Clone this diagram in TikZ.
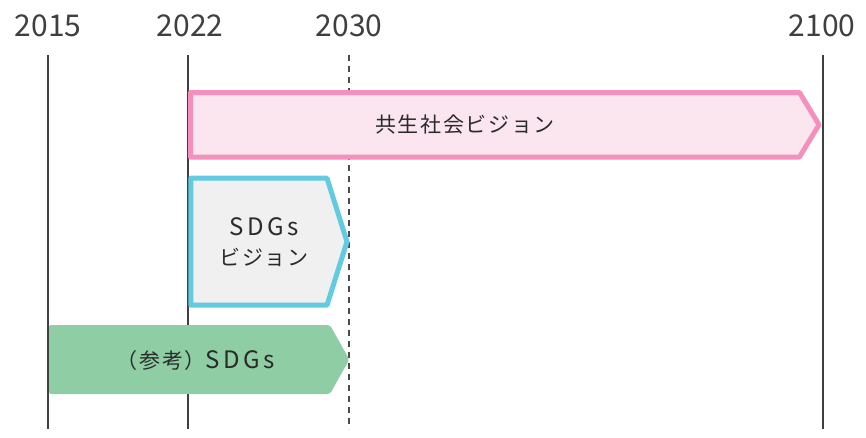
\documentclass[tikz,border=0pt]{standalone}
\usepackage{fontspec}
\setmainfont{Noto Sans CJK JP}
\usepackage{tikz}
\usetikzlibrary{positioning}

\definecolor{axisgray}{HTML}{3F3F3F}
\definecolor{dashgray}{HTML}{4A4A4A}
\definecolor{labelgray}{HTML}{2B2B2B}
\definecolor{pinkline}{HTML}{F490BB}
\definecolor{pinkfill}{HTML}{FBE6EF}
\definecolor{blueline}{HTML}{62CBE2}
\definecolor{bluefill}{HTML}{F0F0F0}
\definecolor{greenfill}{HTML}{8FCDA4}

\newcommand{\latin}[1]{{\fontsize{24}{30}\selectfont\addfontfeature{LetterSpace=15}#1}}

\begin{document}
\begin{tikzpicture}[x=1pt,y=-1pt]
	\tikzstyle{Year}	= [font=\fontsize{30}{32}\selectfont, text=axisgray, inner sep=0pt]
	\tikzstyle{Axis}	= [line width=2pt, axisgray]
	\tikzstyle{Target}	= [line width=2pt, dashgray, dash pattern=on 6pt off 5pt]
	\tikzstyle{Label}	= [font=\fontsize{21}{30}\selectfont\addfontfeature{LetterSpace=8}, text=labelgray, align=center, inner sep=0pt]
	\tikzstyle{Pink}	= [line width=5pt, draw=pinkline, fill=pinkfill, line join=round]
	\tikzstyle{Blue}	= [line width=5pt, draw=blueline, fill=bluefill, line join=round]
	\tikzstyle{Green}	= [fill=greenfill, rounded corners=2pt]

	\useasboundingbox (0,0) rectangle (866,437);

	% years
	\node (y2015) at (48,26) [Year] {2015};
	\node (y2022) at (190,26) [Year] {2022};
	\node (y2030) at (349,26) [Year] {2030};
	\node (y2100) at (822,26) [Year] {2100};

	\coordinate (t2015) at (48,55);
	\coordinate (t2022) at (188,55);
	\coordinate (t2030) at (349,55);
	\coordinate (t2100) at (822.5,55);
	\coordinate (b2015) at (48,429);
	\coordinate (b2022) at (188,429);
	\coordinate (b2030) at (349,429);
	\coordinate (b2100) at (822.5,429);

	\draw (t2015) -- (b2015) [Axis];
	\draw (t2022) -- (b2022) [Axis];
	\draw (t2030) -- (b2030) [Target];
	\draw (t2100) -- (b2100) [Axis];

	% bars
	\draw [Pink] (190.5,92.5) -- (799.5,92.5) -- (819,124.75) -- (799.5,157) -- (190.5,157) -- cycle;
	\draw [Blue] (190.8,178.2) -- (327,178.2) -- (347,241.7) -- (327,305.2) -- (190.8,305.2) -- cycle;
	\fill [Green] (49,325) -- (330,325) -- (349.3,359.5) -- (330,394) -- (49,394) -- cycle;

	\node (vision) at (465,125) [Label] {共生社会ビジョン};
	\node (sdgsvision) at (264,242) [Label] {\latin{SDGs}\\ビジョン};
	\node (sdgs) at (196,361) [Label] {（参考）\latin{SDGs}};
\end{tikzpicture}
\end{document}
